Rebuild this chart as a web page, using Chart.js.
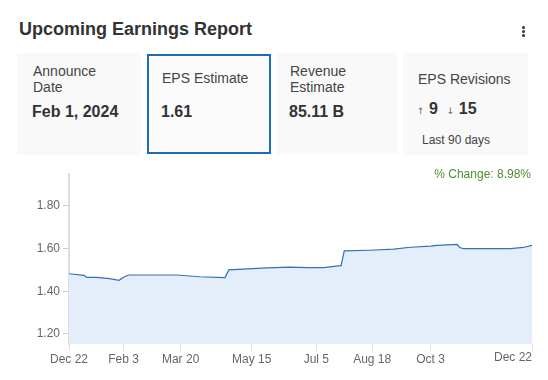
<!DOCTYPE html>
<html>
<head>
<meta charset="utf-8">
<script src="https://cdn.jsdelivr.net/npm/chart.js@4.4.0/dist/chart.umd.min.js"></script>
<style>
    body {
        margin: 0;
        width: 548px;
        height: 380px;
        background: #fff;
        font-family: "Liberation Sans", Arial, sans-serif;
        color: #333;
        position: relative;
        overflow: hidden;
    }
    .abs { position: absolute; white-space: nowrap; }
    .title { left: 19px; top: 19px; font-size: 18px; line-height: 20px; font-weight: bold; color: #333; }
    .kebab { left: 522px; top: 26px; width: 4px; }
    .kebab span { display: block; width: 3px; height: 3px; border-radius: 50%; background: #333; margin-bottom: 1px; }
    .card { background: #f9f9f9; }
    .card.active { background: #fbfbfb; border: 2px solid #1f6db1; box-sizing: border-box; }
    .lbl { font-size: 14px; line-height: 16px; color: #444; }
    .val { font-size: 16px; line-height: 20px; font-weight: bold; color: #333; }
    .small { font-size: 12px; line-height: 14px; color: #444; }
    .arrow { font-family: "DejaVu Sans", sans-serif; font-size: 9px; color: #666; font-weight: normal; }
    .change { right: 17px; top: 167px; font-size: 12px; line-height: 14px; color: #4e8d2f; }
    #chartBox { position: absolute; left: 0; top: 160px; width: 548px; height: 220px; }
</style>
</head>
<body>
<div class="abs title">Upcoming Earnings Report</div>
<div class="abs kebab"><span></span><span></span><span></span></div>

<div class="abs card" style="left:17px; top:53px; width:124px; height:102px;"></div>
<div class="abs card active" style="left:147px; top:54px; width:124px; height:100px;"></div>
<div class="abs card" style="left:277px; top:53px; width:121px; height:101px;"></div>
<div class="abs card" style="left:403px; top:53px; width:125px; height:102px;"></div>

<div class="abs lbl" style="left:33px; top:63px;">Announce<br>Date</div>
<div class="abs val" style="left:32px; top:102px;">Feb 1, 2024</div>

<div class="abs lbl" style="left:162px; top:70px;">EPS Estimate</div>
<div class="abs val" style="left:161px; top:102px;">1.61</div>

<div class="abs lbl" style="left:290px; top:63px;">Revenue<br>Estimate</div>
<div class="abs val" style="left:289px; top:102px;">85.11 B</div>

<div class="abs lbl" style="left:418px; top:71px;">EPS Revisions</div>
<div class="abs val" style="left:417px; top:99px;"><span class="arrow">&#8593;</span> 9 &nbsp;<span class="arrow">&#8595;</span> 15</div>
<div class="abs small" style="left:422px; top:133px;">Last 90 days</div>

<div id="chartBox"><canvas id="epsChart"></canvas></div>
<div class="abs change">% Change: 8.98%</div>

<script>
// Data (days since Dec 22 and EPS estimate)
const dayOffsets = [0, 12, 14, 22, 32, 39.5, 43, 47, 85, 103, 123, 126, 156, 174, 188, 201, 212, 214.5, 217, 237, 256, 269, 285, 290, 306, 308, 311, 348, 358, 365];
const epsValues = [1.482, 1.474, 1.465, 1.465, 1.459, 1.451, 1.466, 1.476, 1.476, 1.468, 1.464, 1.500, 1.509, 1.513, 1.511, 1.511, 1.519, 1.520, 1.589, 1.592, 1.597, 1.606, 1.611, 1.615, 1.619, 1.605, 1.600, 1.600, 1.605, 1.615];

// Axis ticks
const xTickDays = [0, 43, 88, 144, 195, 239, 285, 365];
const xTickLabels = ['Dec 22', 'Feb 3', 'Mar 20', 'May 15', 'Jul 5', 'Aug 18', 'Oct 3', 'Dec 22'];
const yTickValues = [1.2, 1.4, 1.6, 1.8];

const points = dayOffsets.map((d, i) => ({ x: d, y: epsValues[i] }));

// Last label is right-aligned at the chart edge
const lastLabelPlugin = {
    id: 'lastLabel',
    afterDraw(chart) {
        const ctx = chart.ctx;
        const xs = chart.scales.x;
        const lastIdx = xTickDays.length - 1;
        const px = xs.getPixelForValue(xTickDays[lastIdx]);
        ctx.save();
        ctx.font = '12px "Liberation Sans", Arial, sans-serif';
        ctx.fillStyle = '#666';
        ctx.textAlign = 'right';
        ctx.textBaseline = 'top';
        ctx.fillText(xTickLabels[lastIdx], px, chart.chartArea.bottom + 8);
        ctx.restore();
    }
};

const epsCtx = document.getElementById('epsChart').getContext('2d');
const epsChart = new Chart(epsCtx, {
    type: 'line',
    data: {
        datasets: [{
            data: points,
            borderColor: '#3570b5',
            borderWidth: 1.2,
            backgroundColor: '#e3eefa',
            fill: 'start',
            pointRadius: 0,
            tension: 0
        }]
    },
    options: {
        responsive: true,
        maintainAspectRatio: false,
        animation: false,
        events: [],
        layout: {
            padding: { top: 14, right: 16, left: 0, bottom: 0 }
        },
        plugins: {
            legend: { display: false },
            tooltip: { enabled: false }
        },
        scales: {
            x: {
                type: 'linear',
                min: 0,
                max: 365,
                afterBuildTicks: scale => {
                    scale.ticks = xTickDays.map(v => ({ value: v }));
                },
                afterFit: scale => {
                    scale.height = 36;
                },
                border: { display: false },
                grid: {
                    drawOnChartArea: false,
                    drawTicks: true,
                    tickLength: 7,
                    color: '#e0e0e0'
                },
                ticks: {
                    autoSkip: false,
                    maxRotation: 0,
                    padding: 1,
                    color: '#666',
                    font: { family: '"Liberation Sans", Arial, sans-serif', size: 12 },
                    callback: (value, index) => index === xTickDays.length - 1 ? '' : xTickLabels[index]
                }
            },
            y: {
                min: 1.153,
                max: 1.949,
                afterBuildTicks: scale => {
                    scale.ticks = yTickValues.map(v => ({ value: v }));
                },
                afterFit: scale => {
                    scale.width = 69;
                },
                border: { display: true, color: '#dedede', width: 2 },
                grid: {
                    drawOnChartArea: false,
                    drawTicks: true,
                    tickLength: 6,
                    color: '#cfcfcf'
                },
                ticks: {
                    padding: 3,
                    color: '#666',
                    font: { family: '"Liberation Sans", Arial, sans-serif', size: 12 },
                    callback: value => value.toFixed(2)
                }
            }
        }
    },
    plugins: [lastLabelPlugin]
});
</script>
</body>
</html>
